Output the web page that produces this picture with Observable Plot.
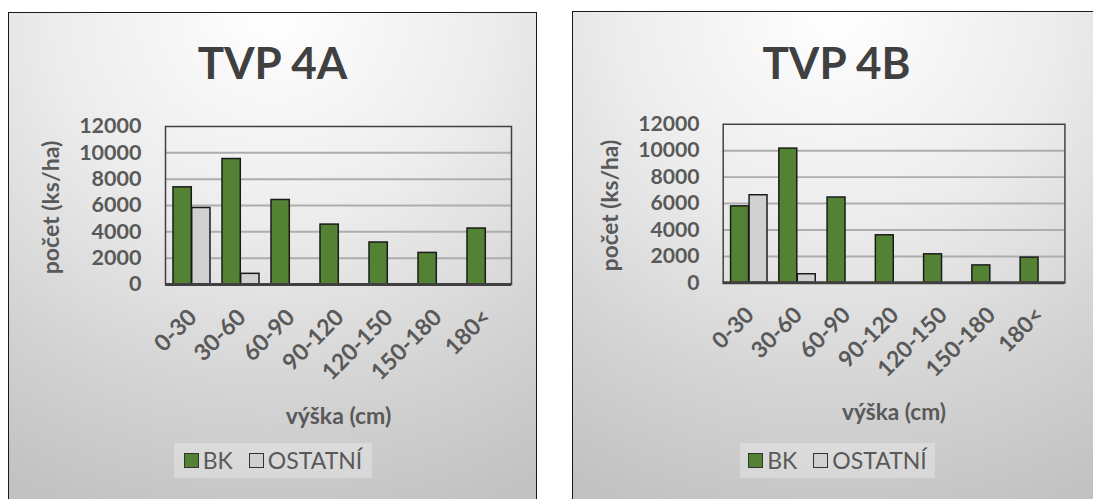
<!DOCTYPE html>
<html><head><meta charset="utf-8">
<script src="https://cdn.jsdelivr.net/npm/d3@7"></script>
<script src="https://cdn.jsdelivr.net/npm/@observablehq/plot@0.6"></script>
<style>
html,body{margin:0;padding:0;width:1093px;height:499px;overflow:hidden;background:#fff;}
body{position:relative;font-family:Lato,"Open Sans",sans-serif;}
.panel{position:absolute;width:529px;height:530px;box-sizing:border-box;border:1.5px solid #1a1a1a;
  background:radial-gradient(ellipse 105% 100% at 50% 0%, #ffffff 0%, #ececec 40%, #d2d2d2 75%, #c2c2c2 100%);}
.title{position:absolute;width:529px;text-align:center;font-weight:700;font-size:44px;line-height:1;color:#404040;}
.chart{position:absolute;}
.legend{position:absolute;height:35px;background:rgba(255,255,255,0.28);display:flex;align-items:center;justify-content:center;font-size:23px;color:#595959;line-height:1;}
.sw{display:inline-block;width:13px;height:13px;border:1px solid #333;margin-right:4px;}
.item{display:flex;align-items:center;margin:0 8px;}
</style></head>
<body>
<script>
const categories = ["0-30","30-60","60-90","90-120","120-150","150-180","180<"];
const seriesNames = ["BK","OSTATNÍ"];
const seriesColors = ["#548235","#d0d0d0"];
const yTicks = [0,2000,4000,6000,8000,10000,12000];
const titles = ["TVP 4A","TVP 4B"];
const bkA  = [7380, 9530, 6420, 4550, 3190, 2400, 4250];
const ostA = [5810, 810, 0, 0, 0, 0, 0];
const bkB  = [5790, 10160, 6460, 3600, 2160, 1320, 1910];
const ostB = [6630, 650, 0, 0, 0, 0, 0];
const yLabel = "počet (ks/ha)";
const xLabel = "výška (cm)";

const layouts = [
  {panelX: 8, panelY: 12, frame: {x1: 165, x2: 511, y1: 126, y2: 284}, legend: {x: 174, w: 198}},
  {panelX: 572, panelY: 11, frame: {x1: 725, x2: 1072, y1: 124, y2: 285}, legend: {x: 740, w: 195}}
];
const datasets = [[bkA, ostA], [bkB, ostB]];

function el(tag, cls, style, text) {
  const e = document.createElement(tag);
  if (cls) e.className = cls;
  Object.assign(e.style, style || {});
  if (text != null) e.textContent = text;
  return e;
}

datasets.forEach(([bk, ost], k) => {
  const L = layouts[k];
  const panel = el("div", "panel", {left: L.panelX + "px", top: L.panelY + "px"});
  document.body.appendChild(panel);
  document.body.appendChild(el("div", "title", {left: L.panelX + "px", top: "40px"}, titles[k]));

  const rows = categories.flatMap((c, i) => [
    {cat: c, series: seriesNames[0], value: bk[i]},
    {cat: c, series: seriesNames[1], value: ost[i]}
  ]);

  const svgLeft = L.panelX, svgTop = L.frame.y1 - 14, W = 529, H = 442 - svgTop;
  const mL = L.frame.x1 - svgLeft, mR = svgLeft + W - L.frame.x2, mT = 14, mB = svgTop + H - L.frame.y2;
  const band = (L.frame.x2 - L.frame.x1) / categories.length;
  const outer = 6;
  const txt = {fill: "#595959", fontSize: 23, fontWeight: "bold"};

  const chart = Plot.plot({
    width: W, height: H,
    marginLeft: mL, marginRight: mR, marginTop: mT, marginBottom: mB,
    style: {background: "transparent", fontFamily: "Lato, 'Open Sans', sans-serif", fontSize: "23px", fontWeight: 700, color: "#595959", overflow: "visible"},
    x: {domain: categories, padding: 0, axis: null},
    y: {domain: [0, 12000], axis: null},
    color: {domain: seriesNames, range: seriesColors},
    marks: [
      Plot.gridY(yTicks.filter(d => d > 0 && d < 12000), {stroke: "#adadad", strokeWidth: 2, strokeOpacity: 1}),
      Plot.barY(rows.filter(d => d.series === seriesNames[0] && d.value > 0), {x: "cat", y: "value", fill: "series", stroke: "#1a1a1a", strokeWidth: 1.5, insetLeft: outer, insetRight: band / 2}),
      Plot.barY(rows.filter(d => d.series === seriesNames[1] && d.value > 0), {x: "cat", y: "value", fill: "series", stroke: "#1a1a1a", strokeWidth: 1.5, insetLeft: band / 2, insetRight: outer}),
      Plot.frame({stroke: "#404040", strokeWidth: 1.5}),
      Plot.ruleY([0], {stroke: "#404040", strokeWidth: 3}),
      Plot.axisY(yTicks, {tickSize: 0, tickPadding: 24, tickFormat: "d", label: null, ...txt, fontSize: 21.5}),
      Plot.text(categories, {x: d => d, frameAnchor: "bottom", rotate: -45, textAnchor: "end", lineAnchor: "middle", dy: 29, dx: 1, ...txt}),
      Plot.text([yLabel], {frameAnchor: "left", rotate: -90, textAnchor: "middle", lineAnchor: "middle", dx: -114, dy: 2, ...txt}),
      Plot.text([xLabel], {frameAnchor: "bottom", textAnchor: "middle", lineAnchor: "middle", dy: 132, ...txt})
    ]
  });
  const wrap = el("div", "chart", {left: svgLeft + "px", top: svgTop + "px"});
  wrap.appendChild(chart);
  document.body.appendChild(wrap);

  const legend = el("div", "legend", {left: L.legend.x + "px", top: "443px", width: L.legend.w + "px"});
  seriesNames.forEach((s, i) => {
    const item = el("span", "item");
    item.appendChild(el("span", "sw", {background: seriesColors[i]}));
    item.appendChild(el("span", null, {}, s));
    legend.appendChild(item);
  });
  document.body.appendChild(legend);
});
</script>
</body></html>
